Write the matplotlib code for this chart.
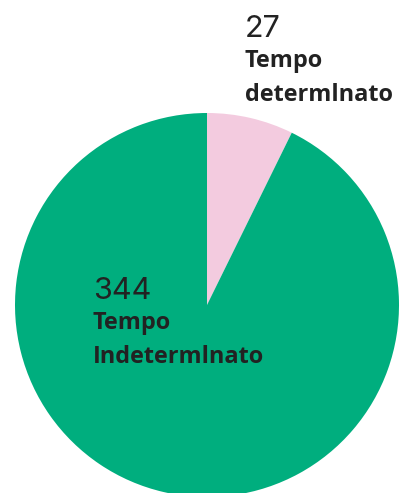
import matplotlib
matplotlib.use("Agg")
import matplotlib.pyplot as plt

labels = [["Tempo", "determlnato"], ["Tempo", "Indetermlnato"]]
values = [27, 344]
colors = ["#F3CBDF", "#00AE7E"]

W, H = 406, 493
fig = plt.figure(figsize=(W / 100, H / 100), dpi=100)
ax = fig.add_axes([0, 0, 1, 1])
ax.pie(values, colors=colors, startangle=90, counterclock=False,
       center=(207, H - 305), radius=192, wedgeprops=dict(linewidth=0))
ax.set_xlim(0, W)
ax.set_ylim(0, H)
ax.set_aspect("equal")
ax.axis("off")

ink = "#222222"
# small slice label sits outside, top right; big slice label inside
for (x, y), v, lines in zip([(245, 37), (93, 299)], values, labels):
    ax.text(x, H - y, str(v), fontsize=22, family="Inter", color=ink, va="baseline")
    for i, line in enumerate(lines):
        ax.text(x, H - y - 30 - 34 * i, line, fontsize=16.9, family="Open Sans",
                weight="bold", color=ink, va="baseline")

fig.savefig("out.png", dpi=100)
